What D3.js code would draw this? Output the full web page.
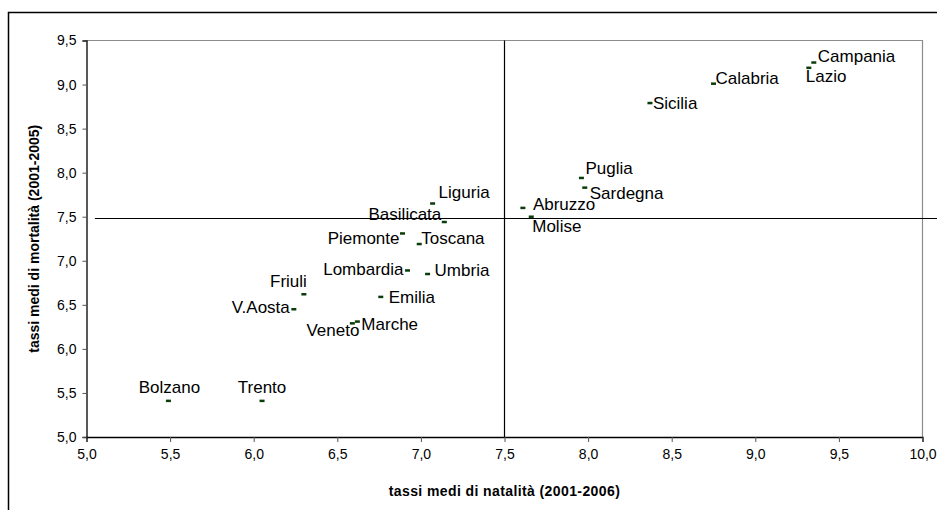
<!DOCTYPE html>
<html>
<head>
<meta charset="utf-8">
<script src="https://cdn.jsdelivr.net/npm/d3@7"></script>
<style>
    html, body { margin: 0; padding: 0; background: #fff; }
    svg { display: block; font-family: "Liberation Sans", Arial, sans-serif; }
</style>
</head>
<body>
<div id="chart"></div>
<script>
// regioni e valori
let regioni = ['Campania', 'Lazio', 'Calabria', 'Sicilia', 'Puglia', 'Sardegna', 'Abruzzo', 'Molise',
    'Liguria', 'Basilicata', 'Piemonte', 'Toscana', 'Lombardia', 'Umbria', 'Friuli', 'V.Aosta',
    'Emilia', 'Veneto', 'Marche', 'Bolzano', 'Trento'];
let natalita = [9.35, 9.32, 8.75, 8.37, 7.96, 7.98, 7.61, 7.66,
    7.07, 7.14, 6.89, 6.99, 6.92, 7.04, 6.30, 6.24,
    6.76, 6.59, 6.62, 5.49, 6.05];
let mortalita = [9.25, 9.19, 9.01, 8.79, 7.94, 7.83, 7.60, 7.50,
    7.65, 7.44, 7.31, 7.19, 6.89, 6.85, 6.62, 6.45,
    6.59, 6.29, 6.31, 5.41, 5.41];

// medie (linee di riferimento)
let media_natalita = 7.50;
let media_mortalita = 7.48;

let x_ticks = [5, 5.5, 6, 6.5, 7, 7.5, 8, 8.5, 9, 9.5, 10];
let y_ticks = [5, 5.5, 6, 6.5, 7, 7.5, 8, 8.5, 9, 9.5];

// posizione etichette rispetto al marcatore: [dx, dy, anchor]
let label_pos = {
    'Campania': [4, -1, 'start'], 'Lazio': [-3, 14, 'start'], 'Calabria': [2, 0, 'start'],
    'Sicilia': [3, 6, 'start'], 'Puglia': [4, -4, 'start'], 'Sardegna': [5, 11, 'start'],
    'Abruzzo': [10, 2, 'start'], 'Molise': [1, 15, 'start'], 'Liguria': [6, -6, 'start'],
    'Basilicata': [-3, -2, 'end'], 'Piemonte': [-3, 11, 'end'], 'Toscana': [2, 0, 'start'],
    'Lombardia': [-4, 5, 'end'], 'Umbria': [7, 2, 'start'], 'Friuli': [3, -7, 'end'],
    'V.Aosta': [-4, 4, 'end'], 'Emilia': [8, 6, 'start'], 'Veneto': [7, 13, 'end'],
    'Marche': [4, 8, 'start'], 'Bolzano': [1, -8, 'middle'], 'Trento': [0, -8, 'middle']
};

let width = 937, height = 510;
let margin = {left: 86.5, right: 14.5, top: 40.5, bottom: 73};

let svg = d3.select('#chart').append('svg')
    .attr('width', width).attr('height', height);

// cornice esterna (tagliata a destra e in basso)
svg.append('rect')
    .attr('x', 8.5).attr('y', 12.5)
    .attr('width', 1000).attr('height', 1000)
    .attr('fill', 'none').attr('stroke', '#000').attr('stroke-width', 1.5);

let x = d3.scaleLinear().domain([5, 10]).range([margin.left, width - margin.right]);
let y = d3.scaleLinear().domain([5, 9.5]).range([height - margin.bottom, margin.top]);

let fmt = function (v) { return d3.format('.1f')(v).replace('.', ','); };

// bordo grigio area del grafico
svg.append('path')
    .attr('d', 'M' + x(5) + ',' + y(9.5) + 'H' + x(10) + 'V' + y(5))
    .attr('fill', 'none').attr('stroke', '#8c8c8c').attr('stroke-width', 1.2);

let x_axis = svg.append('g')
    .attr('transform', 'translate(0,' + y(5) + ')')
    .call(d3.axisBottom(x).tickValues(x_ticks).tickFormat(fmt).tickSize(5).tickPadding(4));
let y_axis = svg.append('g')
    .attr('transform', 'translate(' + x(5) + ',0)')
    .call(d3.axisLeft(y).tickValues(y_ticks).tickFormat(fmt).tickSize(4).tickPadding(6));

[x_axis, y_axis].forEach(function (ax) {
    ax.select('.domain').attr('stroke', '#000').attr('stroke-width', 1.3);
    ax.selectAll('.tick line').attr('stroke', '#555');
    ax.selectAll('.tick text')
        .attr('fill', '#000')
        .style('font-size', '14px')
        .style('font-family', '"Liberation Sans", Arial, sans-serif');
});
x_axis.selectAll('.tick text').attr('dy', '0.95em');

// linee delle medie
svg.append('line')
    .attr('x1', x(media_natalita)).attr('x2', x(media_natalita))
    .attr('y1', y(9.5)).attr('y2', y(5))
    .attr('stroke', '#000').attr('stroke-width', 1.2);
svg.append('line')
    .attr('x1', x(5.05)).attr('x2', x(10.1))
    .attr('y1', y(media_mortalita)).attr('y2', y(media_mortalita))
    .attr('stroke', '#000').attr('stroke-width', 1.2);

// punti e etichette
let punti = regioni.map(function (r, i) {
    return {nome: r, nx: natalita[i], my: mortalita[i]};
});

svg.append('g').selectAll('rect').data(punti).enter().append('rect')
    .attr('x', function (d) { return x(d.nx) - 2.5; })
    .attr('y', function (d) { return y(d.my) - 1.25; })
    .attr('width', 5).attr('height', 2.5)
    .attr('fill', '#0b3d0b');

svg.append('g').selectAll('text').data(punti).enter().append('text')
    .attr('x', function (d) { return x(d.nx) + label_pos[d.nome][0]; })
    .attr('y', function (d) { return y(d.my) + label_pos[d.nome][1]; })
    .attr('text-anchor', function (d) { return label_pos[d.nome][2]; })
    .attr('font-size', '17px')
    .attr('fill', '#000')
    .text(function (d) { return d.nome; });

// titoli degli assi
svg.append('text')
    .attr('x', (x(5) + x(10)) / 2)
    .attr('y', 496)
    .attr('text-anchor', 'middle')
    .attr('font-size', '14px')
    .attr('font-weight', 'bold')
    .attr('letter-spacing', '0.4px')
    .text('tassi medi di natalità (2001-2006)');

svg.append('text')
    .attr('transform', 'translate(39,' + (y(5) + y(9.5)) / 2 + ') rotate(-90)')
    .attr('text-anchor', 'middle')
    .attr('font-size', '14px')
    .attr('font-weight', 'bold')
    .text('tassi medi di mortalità (2001-2005)');
</script>
</body>
</html>
